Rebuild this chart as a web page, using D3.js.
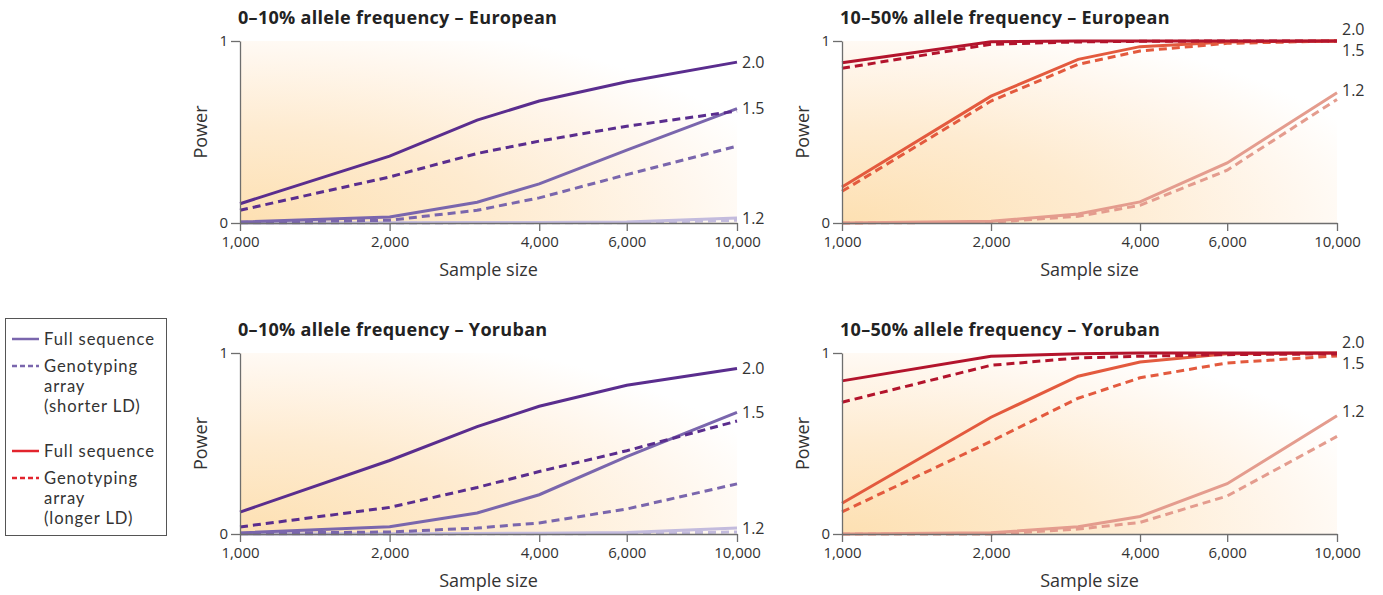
<!DOCTYPE html>
<html><head><meta charset="utf-8">
<script src="https://cdn.jsdelivr.net/npm/d3@7/dist/d3.min.js"></script>
<style>
body{margin:0;background:#fff;}
svg{display:block;font-family:"Open Sans", Lato, sans-serif;}
</style></head>
<body><svg id="c" width="1383" height="595"></svg>
<script>
// ---------- data ----------
const sampleSizes = [1000, 2000, 3000, 4000, 6000, 10000];
const tickValues = [1000, 2000, 4000, 6000, 10000];
const tickLabels = ["1,000", "2,000", "4,000", "6,000", "10,000"];
const oddsRatios = ["2.0", "1.5", "1.2"];
const titles = ["0–10% allele frequency – European", "10–50% allele frequency – European",
                "0–10% allele frequency – Yoruban", "10–50% allele frequency – Yoruban"];

// Panel A: 0–10% European
const eurRareSeq20 = [0.106, 0.367, 0.565, 0.670, 0.776, 0.884];
const eurRareArr20 = [0.070, 0.253, 0.382, 0.450, 0.532, 0.615];
const eurRareSeq15 = [0.006, 0.033, 0.114, 0.215, 0.400, 0.628];
const eurRareArr15 = [0.004, 0.015, 0.070, 0.138, 0.266, 0.422];
const eurRareSeq12 = [0.000, 0.002, 0.003, 0.003, 0.005, 0.028];
const eurRareArr12 = [0.000, 0.000, 0.001, 0.001, 0.002, 0.015];
// Panel B: 10–50% European
const eurComSeq20 = [0.881, 0.996, 1.000, 1.000, 1.000, 1.000];
const eurComArr20 = [0.850, 0.982, 0.995, 0.998, 1.000, 1.000];
const eurComSeq15 = [0.198, 0.697, 0.899, 0.969, 0.995, 1.000];
const eurComArr15 = [0.174, 0.670, 0.872, 0.945, 0.987, 1.000];
const eurComSeq12 = [0.000, 0.009, 0.050, 0.116, 0.330, 0.716];
const eurComArr12 = [0.000, 0.004, 0.037, 0.097, 0.290, 0.679];
// Panel C: 0–10% Yoruban
const yriRareSeq20 = [0.121, 0.406, 0.593, 0.706, 0.822, 0.914];
const yriRareArr20 = [0.039, 0.147, 0.257, 0.345, 0.460, 0.624];
const yriRareSeq15 = [0.006, 0.040, 0.116, 0.217, 0.428, 0.672];
const yriRareArr15 = [0.004, 0.011, 0.033, 0.061, 0.138, 0.277];
const yriRareSeq12 = [0.000, 0.002, 0.003, 0.004, 0.008, 0.033];
const yriRareArr12 = [0.000, 0.000, 0.001, 0.001, 0.003, 0.011];
// Panel D: 10–50% Yoruban
const yriComSeq20 = [0.846, 0.982, 0.996, 1.000, 1.000, 1.000];
const yriComArr20 = [0.728, 0.932, 0.973, 0.982, 0.991, 0.995];
const yriComSeq15 = [0.170, 0.645, 0.872, 0.950, 0.996, 1.000];
const yriComArr15 = [0.122, 0.512, 0.750, 0.863, 0.945, 0.984];
const yriComSeq12 = [0.000, 0.007, 0.040, 0.097, 0.278, 0.653];
const yriComArr12 = [0.000, 0.000, 0.027, 0.064, 0.210, 0.539];

// label positions in power units (right-hand odds ratio labels)
const labelPowerA = [0.884, 0.628, 0.028];
const labelPowerB = [1.065, 0.95, 0.73];
const labelPowerC = [0.914, 0.672, 0.033];
const labelPowerD = [1.06, 0.945, 0.68];

const purples = ["#5a2d8e", "#7a66ad", "#c3bbdd"];
const reds = ["#b3142c", "#e35a3e", "#e49c8e"];

const panels = [
  {title: titles[0], x0: 240, x1: 737, yTop: 41, yBot: 223, colors: purples, labels: labelPowerA,
   seq: [eurRareSeq20, eurRareSeq15, eurRareSeq12], arr: [eurRareArr20, eurRareArr15, eurRareArr12]},
  {title: titles[1], x0: 842, x1: 1337, yTop: 41, yBot: 223, colors: reds, labels: labelPowerB,
   seq: [eurComSeq20, eurComSeq15, eurComSeq12], arr: [eurComArr20, eurComArr15, eurComArr12]},
  {title: titles[2], x0: 240, x1: 737, yTop: 353, yBot: 534, colors: purples, labels: labelPowerC,
   seq: [yriRareSeq20, yriRareSeq15, yriRareSeq12], arr: [yriRareArr20, yriRareArr15, yriRareArr12]},
  {title: titles[3], x0: 842, x1: 1337, yTop: 353, yBot: 534, colors: reds, labels: labelPowerD,
   seq: [yriComSeq20, yriComSeq15, yriComSeq12], arr: [yriComArr20, yriComArr15, yriComArr12]}
];

const svg = d3.select("#c");
const defs = svg.append("defs");
const grad = defs.append("radialGradient").attr("id", "bg")
  .attr("cx", 0).attr("cy", 1).attr("r", 1.15).attr("fx", 0).attr("fy", 1);
grad.append("stop").attr("offset", "0").attr("stop-color", "#fde0b2");
grad.append("stop").attr("offset", "0.45").attr("stop-color", "#feebd0");
grad.append("stop").attr("offset", "0.8").attr("stop-color", "#fff7ee");
grad.append("stop").attr("offset", "1").attr("stop-color", "#ffffff");

panels.forEach(p => {
  const g = svg.append("g");
  const x = d3.scaleLog().domain([1000, 10000]).range([p.x0, p.x1]);
  const y = d3.scaleLinear().domain([0, 1]).range([p.yBot, p.yTop]);

  g.append("rect").attr("x", p.x0).attr("y", p.yTop)
    .attr("width", p.x1 - p.x0).attr("height", p.yBot - p.yTop).attr("fill", "url(#bg)");

  const line = d3.line().x((d, i) => x(sampleSizes[i])).y(d => y(d));

  for (let k = 2; k >= 0; k--) {
    g.append("path").datum(p.arr[k]).attr("d", line).attr("fill", "none")
      .attr("stroke", p.colors[k]).attr("stroke-width", 3).attr("stroke-dasharray", "8,5");
    g.append("path").datum(p.seq[k]).attr("d", line).attr("fill", "none")
      .attr("stroke", p.colors[k]).attr("stroke-width", 3);
  }

  const xAxis = d3.axisBottom(x).tickValues(tickValues)
    .tickFormat((d, i) => tickLabels[i]).tickSize(8).tickSizeOuter(0).tickPadding(5);
  const gx = g.append("g").attr("transform", `translate(0,${p.yBot})`).call(xAxis);
  const yAxis = d3.axisLeft(y).tickValues([0, 1]).tickFormat(d3.format("d"))
    .tickSize(9).tickSizeOuter(0).tickPadding(3);
  const gy = g.append("g").attr("transform", `translate(${p.x0},0)`).call(yAxis);
  [gx, gy].forEach(a => {
    a.select(".domain").attr("stroke", "#6e6e6e").attr("stroke-width", 1.3);
    a.selectAll(".tick line").attr("stroke", "#6e6e6e").attr("stroke-width", 1.3);
    a.selectAll(".tick text").attr("fill", "#333").attr("font-size", 15)
      .attr("font-family", "'Open Sans', Lato, sans-serif");
  });
  gy.selectAll(".tick text").attr("dy", "0.3em");

  g.append("text").attr("x", p.x0 - 2).attr("y", p.yTop - 17).text(p.title)
    .attr("font-weight", "bold").attr("font-size", 18).attr("letter-spacing", 0.3).attr("fill", "#222");
  g.append("text").attr("x", (p.x0 + p.x1) / 2).attr("y", p.yBot + 53)
    .attr("text-anchor", "middle").attr("font-size", 18).attr("fill", "#333").text("Sample size");
  g.append("text").attr("transform", `translate(${p.x0 - 33},${(p.yTop + p.yBot) / 2}) rotate(-90)`)
    .attr("text-anchor", "middle").attr("font-size", 18).attr("fill", "#333").text("Power");
  oddsRatios.forEach((r, i) => {
    g.append("text").attr("x", p.x1 + 5).attr("y", y(p.labels[i])).attr("dy", "0.35em")
      .attr("font-size", 16).attr("fill", "#333").text(r);
  });
});

// legend
const leg = svg.append("g");
leg.append("rect").attr("x", 5.5).attr("y", 318.5).attr("width", 161).attr("height", 217)
  .attr("fill", "#fff").attr("stroke", "#555").attr("stroke-width", 1);
const legendItems = [
  {y: 339, color: "#7a66ad", dash: null, lines: ["Full sequence"]},
  {y: 366, color: "#7a66ad", dash: "5,3", lines: ["Genotyping", "array", "(shorter LD)"]},
  {y: 451, color: "#e2242d", dash: null, lines: ["Full sequence"]},
  {y: 478, color: "#e2242d", dash: "5,3", lines: ["Genotyping", "array", "(longer LD)"]}
];
legendItems.forEach(it => {
  leg.append("line").attr("x1", 12).attr("x2", 39).attr("y1", it.y).attr("y2", it.y)
    .attr("stroke", it.color).attr("stroke-width", 2.5).attr("stroke-dasharray", it.dash);
  it.lines.forEach((s, j) => {
    leg.append("text").attr("x", 44).attr("y", it.y + j * 20).attr("dy", "0.36em")
      .attr("font-family", "Lato, 'Open Sans', sans-serif").attr("font-size", 16.6)
      .attr("letter-spacing", 0.9).attr("fill", "#333").text(s);
  });
});
</script></body></html>
